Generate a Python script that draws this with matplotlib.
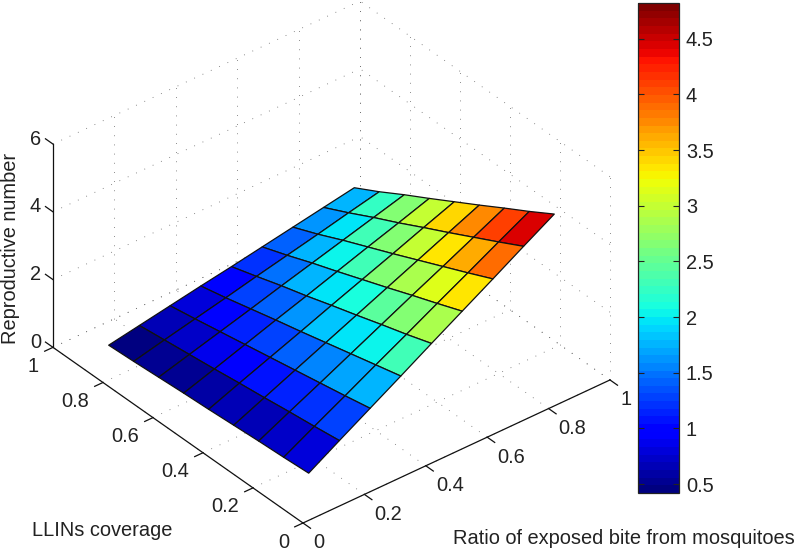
# reproductive number surface, LLINs coverage vs ratio of exposed bites
# looks like a matlab surf() so using jet with 64 levels and ortho view

import numpy as np
import matplotlib
matplotlib.use("Agg")
import matplotlib.pyplot as plt
from matplotlib.cm import ScalarMappable
from matplotlib.colors import ListedColormap, Normalize
from mpl_toolkits.mplot3d import proj3d

plt.rcParams['font.family'] = ['Liberation Sans', 'DejaVu Sans']

# -------------------------------------------------------------------
# data
# -------------------------------------------------------------------
bite_ratio = [0.1, 0.2, 0.3, 0.4, 0.5, 0.6, 0.7, 0.8, 0.9]
coverage = [0.1, 0.2, 0.3, 0.4, 0.5, 0.6, 0.7, 0.8, 0.9]

# height of the surface, one row per coverage value
repro_number = [
    [0.53, 1.07, 1.60, 2.13, 2.67, 3.20, 3.73, 4.27, 4.80],
    [0.48, 0.97, 1.45, 1.94, 2.42, 2.91, 3.39, 3.88, 4.36],
    [0.44, 0.88, 1.31, 1.75, 2.19, 2.63, 3.06, 3.50, 3.94],
    [0.39, 0.78, 1.17, 1.56, 1.95, 2.34, 2.73, 3.12, 3.51],
    [0.34, 0.69, 1.03, 1.37, 1.72, 2.06, 2.40, 2.75, 3.09],
    [0.30, 0.59, 0.89, 1.19, 1.48, 1.78, 2.08, 2.37, 2.67],
    [0.25, 0.50, 0.75, 1.00, 1.26, 1.51, 1.76, 2.01, 2.26],
    [0.20, 0.41, 0.61, 0.81, 1.02, 1.22, 1.42, 1.63, 1.83],
    [0.16, 0.32, 0.48, 0.64, 0.79, 0.95, 1.11, 1.27, 1.43],
]

# colour of each cell, as read against the colorbar
cell_values = [
    [0.77, 1.26, 1.78, 2.31, 2.84, 3.37, 3.90, 4.42],
    [0.73, 1.21, 1.70, 2.05, 2.66, 3.15, 3.59, 4.07],
    [0.68, 1.12, 1.56, 1.95, 2.44, 2.88, 3.32, 3.76],
    [0.64, 1.04, 1.43, 1.83, 2.09, 2.62, 3.02, 3.41],
    [0.60, 0.95, 1.30, 1.65, 1.96, 2.31, 2.66, 3.02],
    [0.55, 0.86, 1.17, 1.43, 1.74, 2.05, 2.31, 2.62],
    [0.49, 0.73, 0.99, 1.26, 1.48, 1.74, 1.96, 2.22],
    [0.42, 0.64, 0.82, 0.99, 1.21, 1.39, 1.61, 1.78],
]

x_ticks = [0, 0.2, 0.4, 0.6, 0.8, 1]
y_ticks = [0, 0.2, 0.4, 0.6, 0.8, 1]
z_ticks = [0, 2, 4, 6]
cbar_ticks = [0.5, 1, 1.5, 2, 2.5, 3, 3.5, 4, 4.5]
c_min, c_max = 0.42, 4.82

# -------------------------------------------------------------------
# figure, pixel helpers
# -------------------------------------------------------------------
W, H = 800, 553
fig = plt.figure(figsize=(W / 100, H / 100), dpi=100)
txt_col = '#222222'
fs = 14.4

ax = fig.add_axes([0, -0.2, 1, W / H], projection='3d', proj_type='ortho',
                  computed_zorder=False)
ax.patch.set_alpha(0)
ax.set_axis_off()
ax.set_xlim(0, 1)
ax.set_ylim(0, 1)
ax.set_zlim(0, 6)
ax.view_init(elev=34.9, azim=-129.16)
box = (1, 1, 0.626)


def to_px(x, y, z):
    ax.apply_aspect()
    px, py, _ = proj3d.proj_transform(x, y, z, ax.get_proj())
    return ax.transData.transform((px, py))


def tick_label(x, y, z, dx, dy, s, ha):
    # label goes dx, dy pixels away from the tick (dy counted downwards)
    p = to_px(x, y, z)
    fig.text((p[0] + dx) / W, (p[1] - dy) / H, s, ha=ha, va='center',
             fontsize=fs, color=txt_col)


# scale and shift the 3d box so the x axis sits where it does in the picture
ax.set_box_aspect(box, zoom=1)
span = to_px(1, 0, 0)[0] - to_px(0, 0, 0)[0]
ax.set_box_aspect(box, zoom=307 / span)
o = to_px(0, 0, 0)
pos = ax.get_position(original=True)
ax.set_position([pos.x0 + (303 - o[0]) / W, pos.y0 + (H - 523 - o[1]) / H,
                 pos.width, pos.height])

# -------------------------------------------------------------------
# dotted grid on floor and the two back walls
# -------------------------------------------------------------------
grid_kw = dict(color='#666666', lw=0.6, ls=(0, (1, 10)), zorder=1)
for t in x_ticks:
    ax.plot([t, t], [0, 1], [0, 0], **grid_kw)
    ax.plot([t, t], [1, 1], [0, 6], **grid_kw)
for t in y_ticks:
    ax.plot([0, 1], [t, t], [0, 0], **grid_kw)
    ax.plot([1, 1], [t, t], [0, 6], **grid_kw)
for t in z_ticks:
    ax.plot([0, 1], [1, 1], [t, t], **grid_kw)
    ax.plot([1, 1], [0, 1], [t, t], **grid_kw)

# -------------------------------------------------------------------
# axis lines, ticks, tick labels
# -------------------------------------------------------------------
line_kw = dict(color='#111111', lw=0.9, zorder=1.5)
ax.plot([0, 1], [0, 0], [0, 0], **line_kw)
ax.plot([0, 0], [0, 1], [0, 0], **line_kw)
ax.plot([0, 0], [1, 1], [0, 6], **line_kw)

for t in x_ticks:
    ax.plot([t, t], [0, -0.03], [0, 0], **line_kw)
    tick_label(t, 0, 0, 10, 20, f'{t:g}', 'left')
for t in y_ticks:
    ax.plot([0, -0.027], [t, t], [0, 0], **line_kw)
    tick_label(0, t, 0, -14, 19, f'{t:g}', 'right')
for t in z_ticks:
    ax.plot([0, 0], [1, 1.03], [t, t], **line_kw)
    tick_label(0, 1, t, -12, -5, f'{t:g}', 'right')

# -------------------------------------------------------------------
# the surface itself
# -------------------------------------------------------------------
jet64 = ListedColormap(plt.get_cmap('jet')(np.linspace(0, 1, 64)))
norm = Normalize(c_min, c_max)
X, Y = np.meshgrid(bite_ratio, coverage)
Z = np.array(repro_number)
face_cols = jet64(norm(np.array(cell_values)))
ax.plot_surface(X, Y, Z, facecolors=face_cols, rstride=1, cstride=1,
                shade=False, edgecolor='#111111', linewidth=0.9, zorder=2)

# -------------------------------------------------------------------
# axis titles (placed by hand like in the original)
# -------------------------------------------------------------------
fig.text(11 / W, 1 - 248 / H, 'Reproductive number', rotation=90, ha='center',
         va='center', fontsize=fs, color=txt_col)
fig.text(32 / W, 1 - 530 / H, 'LLINs coverage', ha='left', va='center',
         fontsize=fs, color=txt_col)
fig.text(453 / W, 1 - 538 / H, 'Ratio of exposed bite from mosquitoes', ha='left',
         va='center', fontsize=fs, color=txt_col)

# -------------------------------------------------------------------
# colorbar
# -------------------------------------------------------------------
cax = fig.add_axes([638 / W, 1 - 493 / H, 41 / W, 490 / H])
cb = fig.colorbar(ScalarMappable(norm=norm, cmap=jet64), cax=cax)
cb.set_ticks(cbar_ticks)
cb.set_ticklabels([f'{t:g}' for t in cbar_ticks])
cb.outline.set_edgecolor('#222222')
cb.outline.set_linewidth(0.9)
cax.tick_params(axis='y', direction='in', left=True, right=True, length=4,
                width=0.8, color='#222222', labelsize=fs, labelcolor=txt_col, pad=5)

fig.savefig("out.png", dpi=100)
